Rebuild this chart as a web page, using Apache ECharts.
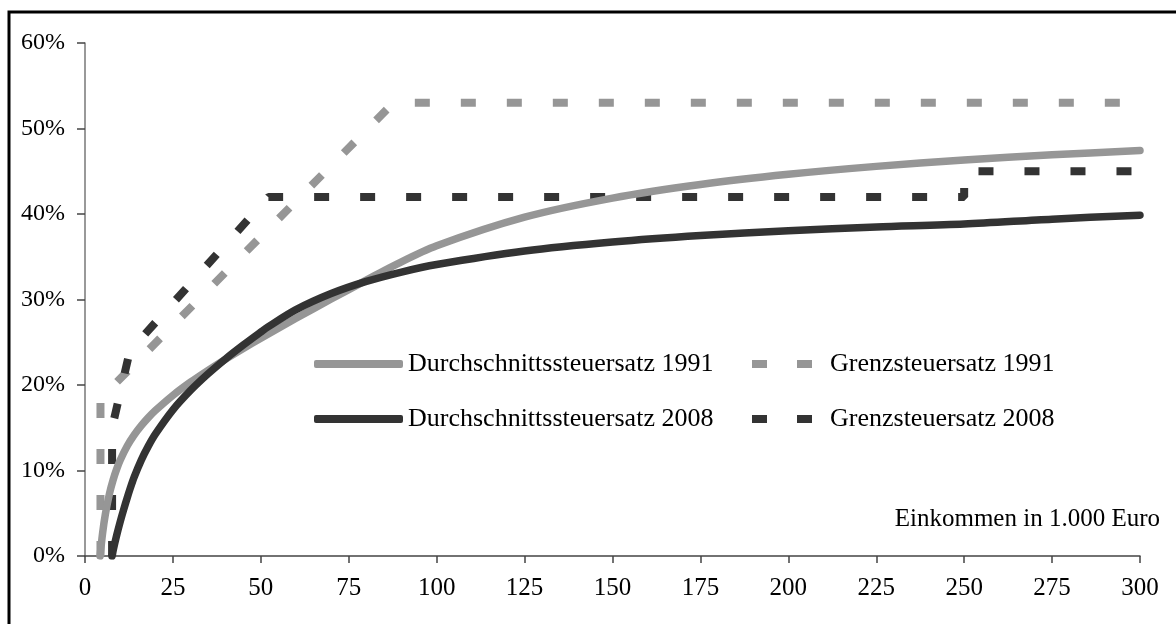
<!DOCTYPE html>
<html>
<head>
<meta charset="utf-8">
<script src="https://cdn.jsdelivr.net/npm/echarts@6/dist/echarts.min.js"></script>
<style>
html,body{margin:0;padding:0;background:#fff;}
#c{width:1176px;height:624px;}
</style>
</head>
<body>
<div id="c"></div>
<script>
// Income in 1.000 Euro (x) and tax rate in % (y)
const avg1991X = [4.3, 5, 5.8, 7, 8, 9, 10, 12, 14, 16, 18, 20, 25, 30, 35, 40, 45, 50, 60, 70, 80, 87.7, 100, 125, 150, 175, 200, 225, 250, 275, 300];
const avg1991Y = [0, 2.66, 4.91, 7.37, 8.91, 10.16, 11.20, 12.86, 14.16, 15.24, 16.18, 17.01, 18.79, 20.33, 21.72, 23.03, 24.27, 25.47, 27.80, 30.05, 32.26, 33.94, 36.28, 39.63, 41.86, 43.45, 44.64, 45.57, 46.31, 46.92, 47.43];

const avg2008X = [7.7, 8, 9, 10, 11, 12, 12.74, 14, 16, 18, 20, 25, 30, 35, 40, 45, 50, 52.15, 60, 70, 80, 90, 100, 125, 150, 175, 200, 225, 250, 275, 300];
const avg2008Y = [0, 0.64, 2.40, 3.99, 5.44, 6.80, 7.76, 9.25, 11.22, 12.85, 14.25, 17.09, 19.36, 21.31, 23.06, 24.67, 26.19, 26.82, 28.81, 30.69, 32.11, 33.21, 34.09, 35.67, 36.72, 37.48, 38.04, 38.48, 38.83, 39.40, 39.86];

const marg1991X = [4.4, 4.4, 5.8, 87.7, 300];
const marg1991Y = [0, 19, 19, 53, 53];

const marg2008X = [7.7, 7.7, 12.74, 52.15, 250, 250, 300];
const marg2008Y = [0, 15, 23.97, 42, 42, 45, 45];

const seriesNames = ['Durchschnittssteuersatz 1991', 'Grenzsteuersatz 1991', 'Durchschnittssteuersatz 2008', 'Grenzsteuersatz 2008'];
const xTicks = [0, 25, 50, 75, 100, 125, 150, 175, 200, 225, 250, 275, 300];
const yTicks = [0, 10, 20, 30, 40, 50, 60];
const xAxisTitle = 'Einkommen in 1.000 Euro';

const zip = (xs, ys) => xs.map((x, i) => [x, ys[i]]);

const LIGHT = '#969696';
const DARK = '#333333';
const FONT = '"Liberation Serif", "Times New Roman", serif';

const chart = echarts.init(document.getElementById('c'), null, {renderer: 'canvas'});

const SOLID_ICON = 'roundRect';
const DASH_ICON = 'path://M0,0H15V8H0Z M45,0H60V8H45Z';

function legendAt(name, left, top, width, icon, textPad) {
  return {
    data: [{name: name, icon: icon}], left: left, top: top, orient: 'horizontal',
    itemWidth: width, itemHeight: 8, itemGap: 0, padding: 0,
    symbolKeepAspect: false,
    textStyle: {fontFamily: FONT, fontSize: 26, color: '#000', padding: [0, 0, 0, textPad]},
    selectedMode: false
  };
}

chart.setOption({
  animation: false,
  backgroundColor: '#fff',
  grid: {left: 85, right: 36, top: 43, bottom: 68, containLabel: false},
  legend: [
    legendAt(seriesNames[0], 314, 351, 89, SOLID_ICON, 0),
    legendAt(seriesNames[1], 752, 351, 60, DASH_ICON, 13),
    legendAt(seriesNames[2], 314, 406, 89, SOLID_ICON, 0),
    legendAt(seriesNames[3], 752, 406, 60, DASH_ICON, 13)
  ],
  xAxis: {
    type: 'value', min: 0, max: 300, interval: 25,
    axisLine: {show: true, lineStyle: {color: '#444', width: 1.5}},
    axisTick: {show: true, length: 7, lineStyle: {color: '#444', width: 1.5}},
    axisLabel: {fontFamily: FONT, fontSize: 25, color: '#000', margin: 20,
      formatter: v => xTicks.includes(v) ? String(v) : ''},
    splitLine: {show: false}
  },
  yAxis: {
    type: 'value', min: 0, max: 60, interval: 10,
    axisLine: {show: true, lineStyle: {color: '#777', width: 1.5}},
    axisTick: {show: true, length: 8, lineStyle: {color: '#444', width: 1.5}},
    axisLabel: {fontFamily: FONT, fontSize: 24, color: '#000', margin: 20,
      formatter: v => yTicks.includes(v) ? v + '%' : ''},
    splitLine: {show: false}
  },
  graphic: [
    {type: 'rect', shape: {x: 9, y: 12, width: 1400, height: 900}, style: {fill: 'none', stroke: '#000', lineWidth: 3}, silent: true},
    {type: 'text', right: 16, top: 507, style: {text: xAxisTitle, font: '25px ' + FONT, fill: '#000'}}
  ],
  series: [
    {name: seriesNames[0], type: 'line', data: zip(avg1991X, avg1991Y), showSymbol: false, symbol: 'none', smooth: 0.3,
      lineStyle: {color: LIGHT, width: 7.5, cap: 'round', join: 'round'}, itemStyle: {color: LIGHT}, z: 3},
    {name: seriesNames[1], type: 'line', data: zip(marg1991X, marg1991Y), showSymbol: false, symbol: 'none',
      lineStyle: {color: LIGHT, width: 8, type: [15, 31], cap: 'butt'}, itemStyle: {color: LIGHT}, z: 2},
    {name: seriesNames[2], type: 'line', data: zip(avg2008X, avg2008Y), showSymbol: false, symbol: 'none', smooth: 0.3,
      lineStyle: {color: DARK, width: 7.5, cap: 'round', join: 'round'}, itemStyle: {color: DARK}, z: 4},
    {name: seriesNames[3], type: 'line', data: zip(marg2008X, marg2008Y), showSymbol: false, symbol: 'none',
      lineStyle: {color: DARK, width: 8, type: [15, 31], cap: 'butt'}, itemStyle: {color: DARK}, z: 2}
  ]
});
</script>
</body>
</html>
